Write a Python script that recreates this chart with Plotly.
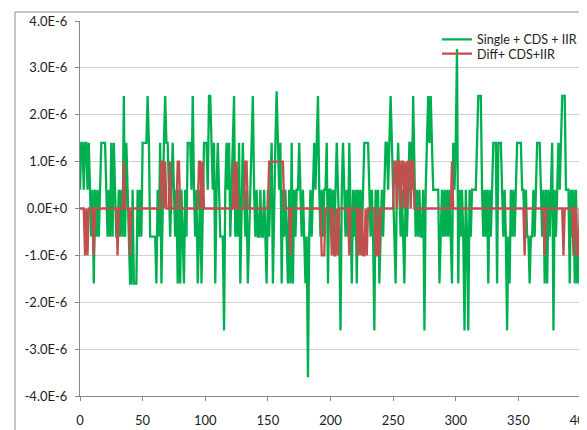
import plotly.graph_objects as go

# values in units of 1E-6, x = 0..400
single_cds_iir = [
    0.4, 1.4, 1.4, 0.4, 1.4, 1.4, 0.4, 1.4, 0.4, -0.6,
    0.4, -1.6, 0.4, -0.6, 0.4, -0.6, 0.4, 1.4, 1.4, 1.4,
    1.4, 0.4, -0.6, 0.4, -0.6, 1.4, -0.6, 1.4, 0.4, -0.6,
    -0.6, 0.4, -0.6, 0.4, -0.6, 2.4, -0.6, 1.4, 0.4, -0.6,
    -1.6, -1.6, 0.4, -1.6, -1.6, -1.6, 0.4, -0.6, 0.4, -0.6,
    1.4, 1.4, 1.4, 1.4, 2.4, 1.4, -0.6, -0.6, -0.6, -0.6,
    -0.6, -1.6, 0.4, -0.6, 1.4, -1.6, 0.4, 1.4, 2.4, 1.4,
    1.4, 0.4, -0.6, 0.4, 1.4, 0.4, -0.6, 0.4, -1.6, 0.4,
    -1.6, 0.4, -0.6, -1.6, 0.4, -0.6, 1.4, 1.4, 1.4, 0.4,
    2.4, 0.4, -0.6, 0.4, -1.6, -0.6, 0.4, -1.6, 0.4, 1.4,
    1.4, 1.4, 0.4, 2.4, 2.4, 1.4, 0.4, 1.4, -1.6, 0.4,
    1.4, 0.4, -0.6, -0.6, -0.6, -2.6, 0.4, 1.4, 0.4, 1.4,
    -0.6, 0.4, 1.4, 2.4, -0.6, 0.4, -0.6, 1.4, -1.6, 0.4,
    1.4, 0.4, -0.6, 0.4, -1.6, -0.6, 0.4, 1.4, 2.4, 0.4,
    -0.6, 0.4, -0.6, -0.6, 0.4, -0.6, -0.6, 0.4, -0.6, -1.6,
    0.4, -0.6, 0.4, 1.4, -1.6, 0.4, 1.4, 2.5, 1.4, 0.4,
    1.4, -1.6, 0.4, -0.6, 0.4, -0.6, -1.6, 0.4, -1.6, 1.4,
    -1.6, 0.4, -0.6, 0.4, 0.4, 1.4, 0.4, -0.6, 0.4, -0.6,
    -1.6, -0.6, -3.6, -0.6, 0.4, -0.6, 0.4, 1.4, 0.4, 1.4,
    2.4, 0.4, -0.6, 0.4, -0.6, 0.4, 0.4, 1.4, -1.6, 0.4,
    0.4, -0.6, 0.4, -0.6, 0.4, 1.4, 0.4, -0.6, -2.6, 0.4,
    1.4, 0.4, -0.6, 0.4, -0.6, 1.4, -0.6, -1.6, 0.4, -0.6,
    0.4, -1.6, 0.4, -0.6, 0.4, -0.6, 0.4, 1.4, 1.4, 1.4,
    1.4, 0.4, -0.6, 0.4, -0.6, -2.6, 0.4, -0.6, 0.4, -1.6,
    -0.6, 0.4, -0.6, 0.4, 1.4, 1.4, 0.4, 1.4, 2.4, 1.4,
    0.4, -0.6, -1.6, 0.4, 1.4, 0.4, -0.6, 0.4, -0.6, -1.6,
    0.4, -0.6, 0.4, 1.4, 1.4, 0.4, 2.4, 0.4, -0.6, 0.4,
    -0.6, 0.4, -0.6, -0.6, 0.4, -2.6, 0.4, 1.4, 2.4, 1.4,
    2.4, 1.4, 0.4, 0.4, 0.4, 0.4, 0.4, -1.6, -0.6, 0.4,
    -0.6, 0.4, -0.6, 0.4, -0.6, 0.4, -0.6, -1.6, 1.4, 0.4,
    1.4, 3.4, -1.6, 0.4, -0.6, 0.4, -0.6, -2.6, 0.4, -0.6,
    -2.6, 0.4, -0.6, 0.4, 0.4, 0.4, 0.4, 1.4, 2.4, 2.4,
    2.4, 0.4, -0.6, 0.4, -0.6, 0.4, -1.6, 0.4, -0.6, 0.4,
    1.4, 1.4, 1.4, -1.6, 1.4, 1.4, 1.4, 0.4, -0.6, 0.4,
    -0.6, -2.6, -0.6, -1.6, 0.4, -0.6, 0.4, -0.6, 0.4, 1.4,
    1.4, 1.4, 1.4, 0.4, 0.4, -0.6, 0.4, -0.6, -0.6, -1.6,
    -0.6, -0.6, 0.4, -0.6, 0.4, 1.4, 1.4, 1.4, 0.4, -0.6,
    0.4, -1.6, 0.4, -1.6, 0.4, -0.6, 0.4, 1.4, -2.6, 0.4,
    -0.6, 0.4, 1.4, 0.4, 1.4, 2.4, 2.4, 2.4, 0.4, 0.4,
    0.4, -1.6, 0.4, -0.6, 0.4, -1.6, 0.4, -1.6, -0.6, -1.6,
    -1.6,
]

diff_cds_iir = [
    0, 0, 0, 0, -1, 0, -1, 0, 0, 0,
    0, -1, 0, 0, 0, 0, 0, 0, 0, 0,
    0, 0, 0, 0, 0, 0, 0, 0, 0, 0,
    -1, 0, 0, 0, 0, 1, 0, 0, 0, 0,
    -1, 0, 0, 0, 0, 0, 0, 0, 0, 0,
    0, 0, 0, 0, 0, 0, 0, 0, 0, 0,
    0, 0, 0, 0, 0, 1, 1, 0, 1, 0,
    0, 0, 1, 0, 0, 0, 0, 0, 1, 1,
    0, 0, 0, 0, 0, 0, 0, 0, 0, 0,
    0, 0, 0, 0, 0, 1, 1, 0, 1, 0,
    0, 0, 0, 0, 0, 0, 0, 0, 0, 0,
    0, 0, 0, 0, 0, 0, 0, 0, 0, 0,
    0, 0, 0, 1, 0, 1, 0, 0, 0, 0,
    0, 0, 1, 1, 0, 0, 0, 0, 0, 0,
    0, 0, 0, 0, 0, 0, 0, 0, 0, 0,
    0, 1, 1, 1, 1, 1, 1, 1, 1, 1,
    1, 1, 1, 0, 0, 0, 0, 0, -1, 0,
    0, 0, 0, 0, 0, 0, 0, 0, 0, 0,
    0, 0, 0, 0, 0, 0, 0, 0, 0, 0,
    0, 0, 0, -1, -1, -1, 0, 0, 0, 0,
    0, -1, 0, -1, -1, 0, -1, 0, 0, 0,
    0, 0, 0, 0, 0, -1, 0, 0, 0, 0,
    0, 0, -1, 0, -1, 0, -1, -1, 0, -1,
    0, 0, 0, 0, 0, 0, -1, -1, 0, -1,
    0, 0, 0, 0, 0, 0, 0, 0, 0, 0,
    0, 1, 1, 0, 1, 1, 0, 1, 1, 0,
    1, 0, 1, 1, 0, 1, 1, 0, 0, 0,
    0, 0, 0, 0, 0, 0, 0, 0, 0, 0,
    0, 0, 0, 0, 0, 0, 0, 0, 0, 0,
    0, 0, 0, 0, 0, 0, 0, 1, 0, 0,
    0, 0, 0, 0, 0, 0, 0, 0, 0, 0,
    0, 0, 0, 0, 0, 0, 0, 0, 0, 0,
    0, 0, 0, 0, 0, 0, 0, 0, 0, 0,
    0, 0, 0, 0, 0, 0, 0, 0, 0, 0,
    0, 0, 0, 0, 0, 0, 0, 0, 0, 0,
    0, 0, 0, 0, 0, -1, 0, 0, 0, 0,
    0, 0, 0, 0, 0, 0, 0, 0, 0, 0,
    0, -1, 0, 0, 0, 0, 0, 0, 0, 0,
    0, 0, 0, 0, 0, 0, -1, 0, 0, 0,
    0, 0, 0, 0, -1, 0, 0, -1, -1, 0,
    0,
]

x_vals = list(range(len(single_cds_iir)))
series_names = ["Single + CDS + IIR", "Diff+ CDS+IIR"]

y_tick_units = [-4, -3, -2, -1, 0, 1, 2, 3, 4]
y_tick_labels = ["-4.0E-6", "-3.0E-6", "-2.0E-6", "-1.0E-6", "0.0E+0",
                 "1.0E-6", "2.0E-6", "3.0E-6", "4.0E-6"]
x_tick_vals = [0, 50, 100, 150, 200, 250, 300, 350, 400]

SCALE = 1e-6

fig = go.Figure()
fig.add_trace(go.Scatter(
    x=x_vals, y=[v * SCALE for v in single_cds_iir], mode="lines",
    name=series_names[0], line=dict(color="#00B050", width=2.3),
    legend="legend"))
fig.add_trace(go.Scatter(
    x=x_vals, y=[v * SCALE for v in diff_cds_iir], mode="lines",
    name=series_names[1], line=dict(color="#C0504D", width=2.3),
    legend="legend2"))

font_family = "Lato, 'Liberation Sans', sans-serif"
legend_common = dict(xanchor="left", yanchor="top",
                     bgcolor="rgba(0,0,0,0)", borderwidth=0,
                     font=dict(size=12.5, color="#222222"), itemwidth=30)

fig.update_layout(
    width=579, height=422,
    margin=dict(l=72, r=6, t=13, b=34, autoexpand=False),
    paper_bgcolor="white", plot_bgcolor="white",
    font=dict(family=font_family, size=13, color="#222222"),
    showlegend=True,
    legend=dict(x=0.7126, y=0.99, **legend_common),
    legend2=dict(x=0.7126, y=0.952, **legend_common),
    xaxis=dict(range=[0, 400], tickvals=x_tick_vals, showgrid=False,
               zeroline=False, showline=True, linecolor="#888888",
               linewidth=1, ticks="outside", ticklen=4, tickcolor="#888888",
               tickfont=dict(size=13), ticklabelstandoff=8,
               ticklabeloverflow="allow", automargin=False),
    yaxis=dict(range=[-4 * SCALE, 4 * SCALE],
               tickvals=[v * SCALE for v in y_tick_units],
               ticktext=y_tick_labels, showgrid=True, gridcolor="#D0D0D0",
               gridwidth=1, zeroline=False, showline=True,
               linecolor="#888888", linewidth=1, ticks="outside",
               ticklen=4, tickcolor="#888888", tickfont=dict(size=13),
               ticklabelstandoff=5, automargin=False),
    shapes=[dict(type="rect", xref="paper", yref="paper",
                 x0=(15 - 80) / 501, x1=1.05, y0=-0.2, y1=(396 - 12) / 375,
                 line=dict(color="#8C8C8C", width=1), layer="below")],
)

fig.write_html("out.html")
